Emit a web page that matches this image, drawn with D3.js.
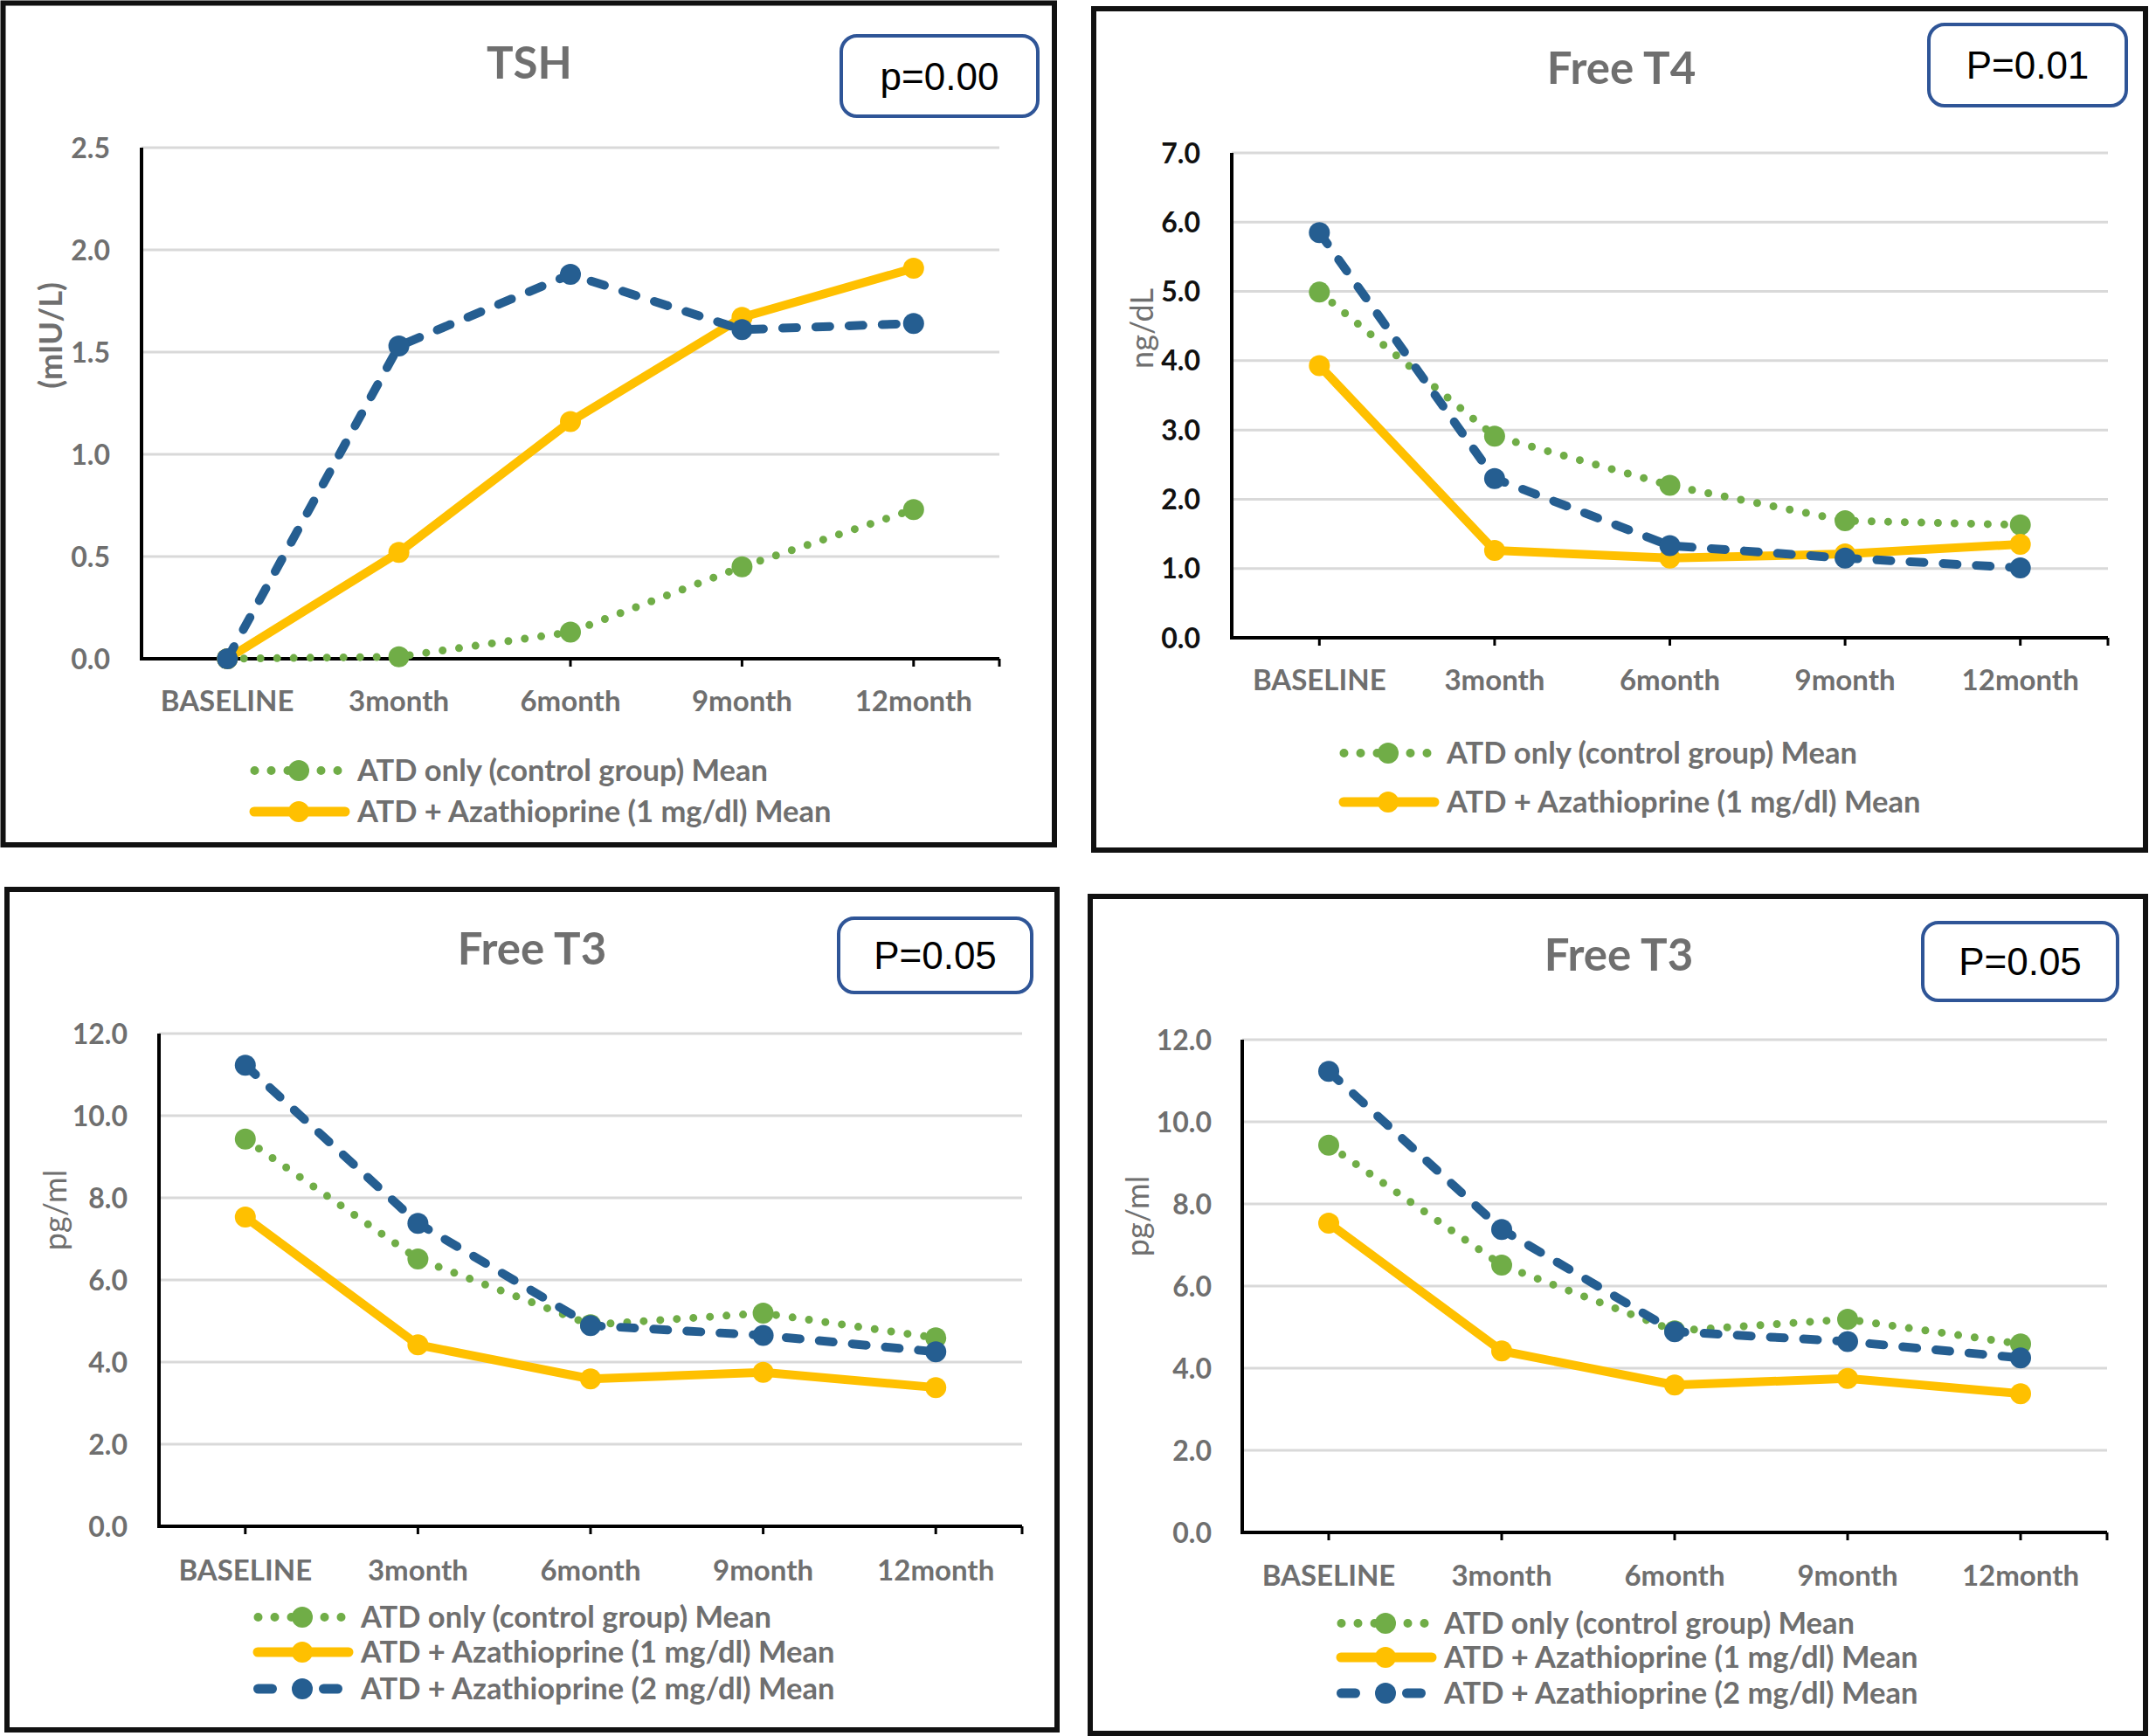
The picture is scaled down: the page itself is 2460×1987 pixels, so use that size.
<!DOCTYPE html>
<html>
<head>
<meta charset="utf-8">
<script src="https://cdn.jsdelivr.net/npm/d3@7"></script>
<style>
  body { margin: 0; background: #ffffff; }
  text { font-family: Lato, "Open Sans", sans-serif; }
</style>
</head>
<body>
<div id="vis"></div>
<script>
var w = 2460;
var h = 1987;

// categories on the x axis
var categories = ['BASELINE', '3month', '6month', '9month', '12month'];

// legend names
var seriesNames = [
  'ATD only (control group) Mean',
  'ATD + Azathioprine (1 mg/dl) Mean',
  'ATD + Azathioprine (2 mg/dl) Mean'
];

// TSH (mIU/L)
var tshControl = [0.00, 0.01, 0.13, 0.45, 0.73];
var tshAza1    = [0.00, 0.52, 1.16, 1.67, 1.91];
var tshAza2    = [0.00, 1.53, 1.88, 1.61, 1.64];
var tshTicks   = [0, 0.5, 1.0, 1.5, 2.0, 2.5];

// Free T4 (ng/dL)
var ft4Control = [4.99, 2.91, 2.20, 1.69, 1.63];
var ft4Aza1    = [3.93, 1.26, 1.15, 1.21, 1.35];
var ft4Aza2    = [5.85, 2.30, 1.33, 1.15, 1.01];
var ft4Ticks   = [0, 1, 2, 3, 4, 5, 6, 7];

// Free T3 (pg/ml)
var ft3Control = [9.43, 6.51, 4.91, 5.19, 4.59];
var ft3Aza1    = [7.53, 4.42, 3.59, 3.75, 3.38];
var ft3Aza2    = [11.23, 7.38, 4.89, 4.65, 4.25];
var ft3Ticks   = [0, 2, 4, 6, 8, 10, 12];

// p values
var pLabels = ['p=0.00', 'P=0.01', 'P=0.05', 'P=0.05'];

var gray = '#6f6f6f';
var green = '#70ad47';
var yellow = '#ffc000';
var blue = '#255e91';

var styles = [
  { color: green,  width: 9,  dash: '0 19', legDash: '0 19', cap: 'round' },
  { color: yellow, width: 10, dash: null,   legDash: null, cap: 'round' },
  { color: blue,   width: 10, dash: '16 22', legDash: '16 59 16', cap: 'round' }
];

var svg = d3.select('#vis')
  .append('svg')
    .attr('width', w)
    .attr('height', h);

var panels = [
  {
    frame: [3.5, 3.5, 1207, 967],
    plot: { x0: 162, x1: 1144, y0: 169, y1: 754 },
    ticks: tshTicks, fmt: '.1f',
    series: [tshControl, tshAza1, tshAza2],
    title: 'TSH', titleX: 606, titleY: 90,
    ylab: '(mIU/L)', ylabBold: true, ylabX: 58, ylabY: 384,
    tickColor: gray, tickRight: 126, catY: 814,
    legX: 286, legRows: [882, 929],
    pbox: [963, 41, 1188, 133], p: pLabels[0]
  },
  {
    frame: [1252, 10, 2456, 973],
    plot: { x0: 1410, x1: 2413, y0: 175, y1: 730 },
    ticks: ft4Ticks, fmt: '.1f',
    series: [ft4Control, ft4Aza1, ft4Aza2],
    title: 'Free T4', titleX: 1856, titleY: 96,
    ylab: 'ng/dL', ylabBold: false, ylabX: 1307, ylabY: 376,
    tickColor: '#111111', tickRight: 1374, catY: 790,
    legX: 1533, legRows: [862, 918],
    pbox: [2208, 28, 2434, 121], p: pLabels[1]
  },
  {
    frame: [8, 1018, 1210, 1980],
    plot: { x0: 182, x1: 1170, y0: 1183, y1: 1747 },
    ticks: ft3Ticks, fmt: '.1f',
    series: [ft3Control, ft3Aza1, ft3Aza2],
    title: 'Free T3', titleX: 609, titleY: 1104,
    ylab: 'pg/ml', ylabBold: false, ylabX: 63, ylabY: 1385,
    tickColor: gray, tickRight: 146, catY: 1809,
    legX: 290, legRows: [1851, 1891, 1933],
    pbox: [960, 1051, 1181, 1136], p: pLabels[2]
  },
  {
    frame: [1248, 1026, 2456, 1984],
    plot: { x0: 1422, x1: 2412, y0: 1190, y1: 1754 },
    ticks: ft3Ticks, fmt: '.1f',
    series: [ft3Control, ft3Aza1, ft3Aza2],
    title: 'Free T3', titleX: 1853, titleY: 1111,
    ylab: 'pg/ml', ylabBold: false, ylabX: 1302, ylabY: 1392,
    tickColor: gray, tickRight: 1387, catY: 1815,
    legX: 1530, legRows: [1858, 1897, 1938],
    pbox: [2201, 1056, 2424, 1145], p: pLabels[3]
  }
];

panels.forEach(function(c) {
  var g = svg.append('g');

  // outer frame
  g.append('rect')
    .attr('x', c.frame[0])
    .attr('y', c.frame[1])
    .attr('width', c.frame[2] - c.frame[0])
    .attr('height', c.frame[3] - c.frame[1])
    .style('fill', '#ffffff')
    .style('stroke', '#111111')
    .style('stroke-width', 6);

  var x = d3.scalePoint()
    .domain(categories)
    .range([c.plot.x0, c.plot.x1])
    .padding(0.5);

  var y = d3.scaleLinear()
    .domain([0, d3.max(c.ticks)])
    .range([c.plot.y1, c.plot.y0]);

  // gridlines
  g.selectAll('.grid')
    .data(c.ticks.slice(1))
    .enter()
    .append('line')
      .attr('x1', c.plot.x0)
      .attr('x2', c.plot.x1)
      .attr('y1', function(d) { return y(d); })
      .attr('y2', function(d) { return y(d); })
      .style('stroke', '#d9d9d9')
      .style('stroke-width', 3);

  // y tick labels
  g.selectAll('.ylab')
    .data(c.ticks)
    .enter()
    .append('text')
      .attr('x', c.tickRight)
      .attr('y', function(d) { return y(d); })
      .attr('dy', '0.36em')
      .attr('text-anchor', 'end')
      .style('font-size', '32px')
      .style('font-weight', 'bold')
      .style('fill', c.tickColor)
      .text(function(d) { return d3.format(c.fmt)(d); });

  // axes lines
  g.append('line')
    .attr('x1', c.plot.x0).attr('x2', c.plot.x0)
    .attr('y1', c.plot.y0).attr('y2', c.plot.y1 + 2)
    .style('stroke', '#000').style('stroke-width', 4);
  g.append('line')
    .attr('x1', c.plot.x0 - 2).attr('x2', c.plot.x1)
    .attr('y1', c.plot.y1).attr('y2', c.plot.y1)
    .style('stroke', '#000').style('stroke-width', 4);

  // x ticks at the categories and at the axis end
  var tickXs = categories.map(function(d) { return x(d); }).concat([c.plot.x1]);
  g.selectAll('.xtick')
    .data(tickXs)
    .enter()
    .append('line')
      .attr('x1', function(d) { return d; })
      .attr('x2', function(d) { return d; })
      .attr('y1', c.plot.y1)
      .attr('y2', c.plot.y1 + 9)
      .style('stroke', '#000')
      .style('stroke-width', 3);

  // category labels
  g.selectAll('.cat')
    .data(categories)
    .enter()
    .append('text')
      .attr('x', function(d) { return x(d); })
      .attr('y', c.catY)
      .attr('text-anchor', 'middle')
      .style('font-size', '33px')
      .style('font-weight', 'bold')
      .style('fill', gray)
      .text(function(d) { return d; });

  // y axis title
  g.append('text')
    .attr('transform', 'translate(' + c.ylabX + ',' + c.ylabY + ') rotate(-90)')
    .attr('text-anchor', 'middle')
    .attr('dy', '0.35em')
    .style('font-size', '36px')
    .style('font-weight', c.ylabBold ? 'bold' : 'normal')
    .style('fill', gray)
    .text(c.ylab);

  // chart title
  g.append('text')
    .attr('x', c.titleX)
    .attr('y', c.titleY)
    .attr('text-anchor', 'middle')
    .style('font-size', '51px')
    .style('font-weight', 'bold')
    .style('fill', gray)
    .text(c.title);

  // lines + markers
  var line = d3.line()
    .x(function(d, i) { return x(categories[i]); })
    .y(function(d) { return y(d); });

  c.series.forEach(function(s, k) {
    var st = styles[k];
    g.append('path')
      .datum(s)
      .attr('d', line)
      .style('fill', 'none')
      .style('stroke', st.color)
      .style('stroke-width', st.width)
      .style('stroke-linecap', st.cap)
      .style('stroke-linejoin', 'round')
      .style('stroke-dasharray', st.dash);
    g.selectAll('.pt' + k)
      .data(s)
      .enter()
      .append('circle')
        .attr('cx', function(d, i) { return x(categories[i]); })
        .attr('cy', function(d) { return y(d); })
        .attr('r', 12)
        .style('fill', st.color);
  });

  // legend
  c.legRows.forEach(function(ry, k) {
    var st = styles[k];
    var lg = g.append('g');
    var x1 = k === 1 ? c.legX + 5 : c.legX + 5.5;
    var x2 = k === 1 ? c.legX + 109 : (k === 2 ? c.legX + 96.5 : c.legX + 101);
    lg.append('line')
      .attr('x1', x1).attr('x2', x2)
      .attr('y1', ry).attr('y2', ry)
      .style('stroke', st.color)
      .style('stroke-width', st.width + 1)
      .style('stroke-linecap', st.cap)
      .style('stroke-dasharray', st.legDash);
    lg.append('circle')
      .attr('cx', c.legX + 56)
      .attr('cy', ry)
      .attr('r', 12)
      .style('fill', st.color);
    lg.append('text')
      .attr('x', c.legX + 123)
      .attr('y', ry)
      .attr('dy', '0.36em')
      .style('font-size', '34.5px')
      .style('font-weight', 'bold')
      .style('fill', gray)
      .text(seriesNames[k]);
  });

  // p value box
  g.append('rect')
    .attr('x', c.pbox[0])
    .attr('y', c.pbox[1])
    .attr('width', c.pbox[2] - c.pbox[0])
    .attr('height', c.pbox[3] - c.pbox[1])
    .attr('rx', 18)
    .style('fill', '#ffffff')
    .style('stroke', '#2f5597')
    .style('stroke-width', 4);
  g.append('text')
    .attr('x', (c.pbox[0] + c.pbox[2]) / 2)
    .attr('y', (c.pbox[1] + c.pbox[3]) / 2)
    .attr('dy', '0.36em')
    .attr('text-anchor', 'middle')
    .style('font-family', '"Liberation Sans", Arial, sans-serif')
    .style('font-size', '44px')
    .style('fill', '#000')
    .text(c.p);
});
</script>
</body>
</html>
